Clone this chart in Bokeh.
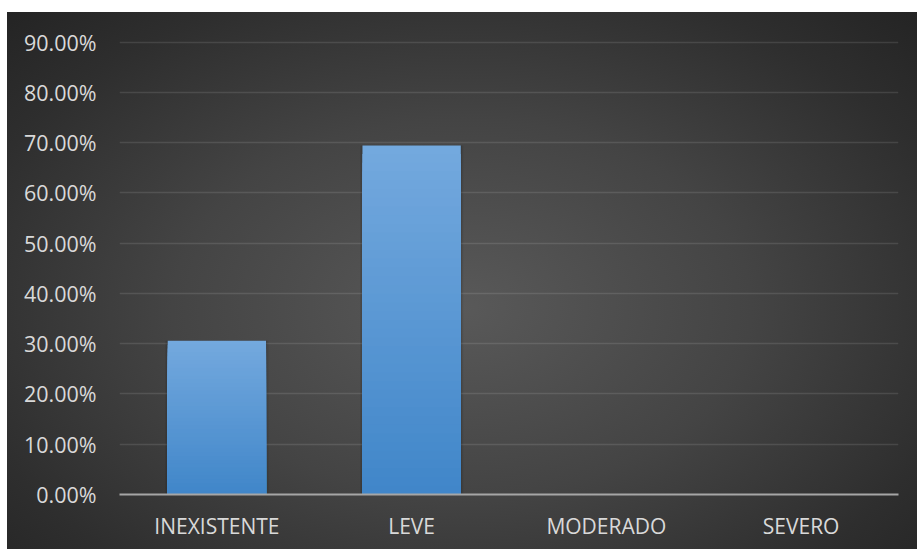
from bokeh.plotting import figure
from bokeh.models import FixedTicker, NumeralTickFormatter, ColumnDataSource, Spacer
from bokeh.layouts import column, row
from bokeh.embed import file_html
from bokeh.resources import INLINE

categories = ["INEXISTENTE", "LEVE", "MODERADO", "SEVERO"]
values = [0.3056, 0.6944, 0.0, 0.0]
y_ticks = [0.0, 0.1, 0.2, 0.3, 0.4, 0.5, 0.6, 0.7, 0.8, 0.9]

top_rgb = (0x74, 0xA9, 0xDE)
bot_rgb = (0x40, 0x86, 0xC9)

p = figure(
    x_range=categories, y_range=(0, 0.903),
    width=910, height=537,
    output_backend="svg", toolbar_location=None,
    min_border_left=112, min_border_right=19, min_border_top=28, min_border_bottom=55,
)
p.background_fill_color = None
p.border_fill_color = None
p.outline_line_color = None
p.styles = {"background": "radial-gradient(ellipse at 50% 55%, #595959 0%, #444444 45%, #2e2e2e 80%, #242424 100%)"}

# soft bar shadow
sh = ColumnDataSource(dict(x=[c for c, v in zip(categories, values) if v > 0],
                           top=[v for v in values if v > 0]))
p.vbar(x="x", top="top", bottom=0, width=0.53, source=sh,
       fill_color="black", fill_alpha=0.08, line_color=None)
p.vbar(x="x", top="top", bottom=0, width=0.515, source=sh,
       fill_color="black", fill_alpha=0.1, line_color=None)

# gradient bars: overlapping rects from the bar's base, tallest (lightest) drawn first
n = 40
xs, tops, cols = [], [], []
for i in range(n, 0, -1):
    t = (i - 0.5) / n
    rgb = tuple(int(round(b + (tp - b) * t)) for b, tp in zip(bot_rgb, top_rgb))
    for c, v in zip(categories, values):
        if v <= 0:
            continue
        xs.append(c)
        tops.append(v * i / n)
        cols.append("#%02x%02x%02x" % rgb)
src = ColumnDataSource(dict(x=xs, top=tops, color=cols))
p.vbar(x="x", bottom=0, top="top", width=0.505, source=src,
       fill_color="color", line_color=None)

p.xgrid.grid_line_color = None
p.ygrid.grid_line_color = "white"
p.ygrid.grid_line_alpha = 0.11
p.ygrid.grid_line_width = 1.5

p.yaxis.ticker = FixedTicker(ticks=y_ticks)
p.yaxis.formatter = NumeralTickFormatter(format="0.00%")
p.yaxis.axis_line_color = None
p.yaxis.major_tick_line_color = None
p.yaxis.minor_tick_line_color = None
p.yaxis.major_label_standoff = 17
p.yaxis.major_label_text_font = "Open Sans"
p.yaxis.major_label_text_font_size = "21.5px"
p.yaxis.major_label_text_color = "#d9d9d9"

p.xaxis.axis_line_color = "#a6a6a6"
p.xaxis.axis_line_width = 2
p.xaxis.major_tick_line_color = None
p.xaxis.minor_tick_line_color = None
p.xaxis.major_label_standoff = 11
p.xaxis.major_label_text_font = "Open Sans"
p.xaxis.major_label_text_font_size = "21px"
p.xaxis.major_label_text_color = "#d9d9d9"

layout = row(Spacer(width=7, height=549),
             column(Spacer(width=910, height=12), p, spacing=0),
             spacing=0)

open("out.html", "w").write(file_html(layout, INLINE))
